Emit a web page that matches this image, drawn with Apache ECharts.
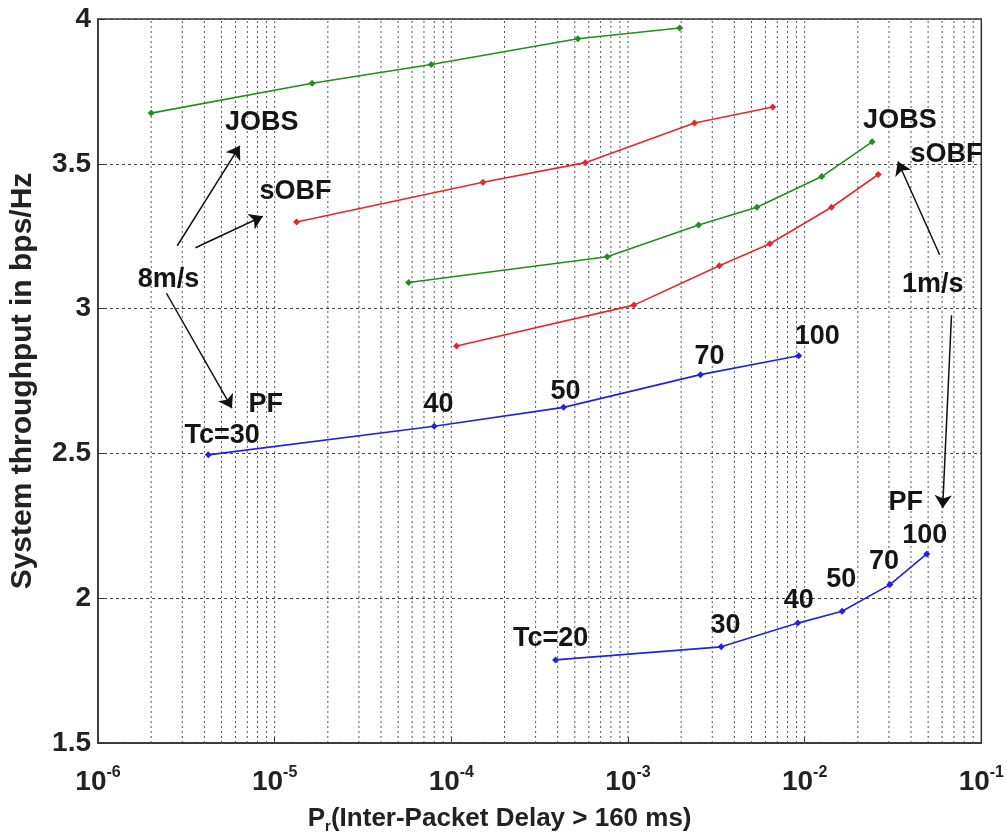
<!DOCTYPE html>
<html><head><meta charset="utf-8">
<script src="https://cdn.jsdelivr.net/npm/echarts@6/dist/echarts.min.js"></script>
<style>html,body{margin:0;padding:0;background:#fff}#c{width:1007px;height:839px}</style>
</head><body><div id="c"></div>
<script>
// ---- data ----
const jobs8X = [2.0e-6, 1.63e-5, 7.7e-5, 5.2e-4, 1.96e-3];
const jobs8Y = [3.675, 3.778, 3.843, 3.932, 3.969];
const sobf8X = [1.33e-5, 1.51e-4, 5.73e-4, 2.38e-3, 6.6e-3];
const sobf8Y = [3.299, 3.436, 3.504, 3.641, 3.696];
const jobs1X = [5.73e-5, 7.62e-4, 2.51e-3, 5.37e-3, 1.25e-2, 2.41e-2];
const jobs1Y = [3.090, 3.179, 3.289, 3.350, 3.456, 3.576];
const sobf1X = [1.07e-4, 1.08e-3, 3.29e-3, 6.35e-3, 1.42e-2, 2.61e-2];
const sobf1Y = [2.871, 3.012, 3.148, 3.224, 3.350, 3.463];
const pf8X = [4.21e-6, 8.0e-5, 4.32e-4, 2.57e-3, 9.25e-3];
const pf8Y = [2.495, 2.594, 2.659, 2.772, 2.837];
const pf1X = [3.89e-4, 3.37e-3, 9.14e-3, 1.63e-2, 3.04e-2, 4.91e-2];
const pf1Y = [1.787, 1.832, 1.914, 1.955, 2.047, 2.153];

const xMin = 1e-6, xMax = 1e-1;
const yMin = 1.5, yMax = 4, yStep = 0.5;
const decadeExps = [-6, -5, -4, -3, -2];
const minorMults = [1, 2, 3, 4, 5, 6, 7, 8, 9];

// annotation texts (data coordinates)
const annText  = ['JOBS','sOBF','8m/s','PF','Tc=30','40','50','70','100',
                  'JOBS','sOBF','1m/s','PF','100','70','50','40','30','Tc=20'];
const annX = [8.45e-6,1.31e-5,2.51e-6,8.9e-6,5.04e-6,8.45e-5,4.43e-4,2.89e-3,1.18e-2,
              3.46e-2,6.35e-2,5.31e-2,3.74e-2,4.79e-2,2.81e-2,1.61e-2,9.25e-3,3.56e-3,3.65e-4];
const annY = [3.644,3.405,3.101,2.670,2.560,2.670,2.714,2.834,2.902,
              3.648,3.531,3.083,2.331,2.218,2.126,2.064,1.992,1.904,1.859];
// arrows: start (x,y) -> end (x,y)
const arrFromX = [2.81e-6, 3.56e-6, 2.44e-6, 5.81e-2, 6.78e-2];
const arrFromY = [3.217, 3.210, 3.053, 3.186, 2.977];
const arrToX   = [6.35e-6, 8.57e-6, 5.73e-6, 3.37e-2, 6.04e-2];
const arrToY   = [3.562, 3.319, 2.656, 3.508, 2.311];

// ---- build ----
const FONT = 'Liberation Sans, Arial, sans-serif';
const zip = (xs, ys) => xs.map((x, i) => [x, ys[i]]);
const gridXs = [];
decadeExps.forEach(e => minorMults.forEach(m => {
  const v = m * Math.pow(10, e);
  if (v > xMin) gridXs.push(v);
}));

function lineSeries(name, xs, ys, color) {
  return {
    name, type: 'line', data: zip(xs, ys), color,
    symbol: 'diamond', symbolSize: 7,
    lineStyle: { width: 1.6, color }, itemStyle: { color },
    z: 5
  };
}

const gridSeries = gridXs.map(v => ({
  type: 'line', silent: true, symbol: 'none', z: 1,
  data: [[v, yMin], [v, yMax]],
  lineStyle: { type: [2, 3], color: '#555', width: 1 }
}));

const option = {
  animation: false,
  backgroundColor: '#fff',
  grid: { left: 97, right: 20, top: 19, bottom: 89, show: true, borderColor: '#333', borderWidth: 1.5 },
  xAxis: {
    type: 'log', logBase: 10, min: xMin, max: xMax,
    axisLine: { show: true, lineStyle: { color: '#333', width: 1.5 } },
    axisTick: { inside: true, length: 6, lineStyle: { color: '#333' } },
    splitLine: { show: false },
    axisLabel: {
      margin: 22,
      formatter: v => '{b|10}{s|' + Math.round(Math.log10(v)) + '}',
      rich: {
        b: { fontFamily: FONT, fontWeight: 'bold', fontSize: 28, color: '#222' },
        s: { fontFamily: FONT, fontWeight: 'bold', fontSize: 16, color: '#222', padding: [0, 0, 18, 0] }
      }
    },
    name: '{a|P}{r|r}{a|(Inter-Packet Delay > 160 ms)}',
    nameLocation: 'middle', nameGap: 60,
    nameTextStyle: {
      padding: [0, 80, 0, 0],
      rich: {
        a: { fontFamily: FONT, fontWeight: 'bold', fontSize: 26, color: '#222' },
        r: { fontFamily: FONT, fontWeight: 'bold', fontSize: 15, color: '#222', padding: [16, 0, 0, 0] }
      }
    }
  },
  yAxis: {
    type: 'value', min: yMin, max: yMax, interval: yStep,
    axisLine: { show: true, lineStyle: { color: '#333', width: 1.5 } },
    axisTick: { inside: true, length: 6, lineStyle: { color: '#333' } },
    splitLine: { show: true, lineStyle: { type: [3, 3], color: '#444', width: 1 } },
    axisLabel: { margin: 7, fontFamily: FONT, fontWeight: 'bold', fontSize: 28, color: '#222',
                 formatter: v => String(v) },
    name: 'System throughput in bps/Hz', nameLocation: 'middle', nameGap: 60,
    nameTextStyle: { fontFamily: FONT, fontWeight: 'bold', fontSize: 30, color: '#222' }
  },
  series: [
    ...gridSeries,
    lineSeries('JOBS 8m/s', jobs8X, jobs8Y, '#1f8f1f'),
    lineSeries('sOBF 8m/s', sobf8X, sobf8Y, '#e8262e'),
    lineSeries('JOBS 1m/s', jobs1X, jobs1Y, '#1f8f1f'),
    lineSeries('sOBF 1m/s', sobf1X, sobf1Y, '#e8262e'),
    lineSeries('PF 8m/s', pf8X, pf8Y, '#2222e6'),
    lineSeries('PF 1m/s', pf1X, pf1Y, '#2222e6'),
    {
      type: 'scatter', symbolSize: 0, z: 10, silent: true,
      itemStyle: { color: '#000', opacity: 1 },
      data: annText.map((t, i) => ({ name: t, value: [annX[i], annY[i]] })),
      label: { show: true, position: 'inside', formatter: p => p.name, opacity: 1,
               fontFamily: FONT, fontWeight: 'bold', fontSize: 27, color: '#151515' }
    },
    {
      type: 'line', data: [], silent: true, z: 10,
      markLine: {
        silent: true, symbol: ['none', 'arrow'], symbolSize: 13, label: { show: false },
        lineStyle: { type: 'solid', color: '#111', width: 1.5 },
        data: arrFromX.map((x, i) => [{ coord: [x, arrFromY[i]] }, { coord: [arrToX[i], arrToY[i]] }])
      }
    }
  ]
};
echarts.init(document.getElementById('c'), null, { renderer: 'canvas' }).setOption(option);
</script>
</body></html>
